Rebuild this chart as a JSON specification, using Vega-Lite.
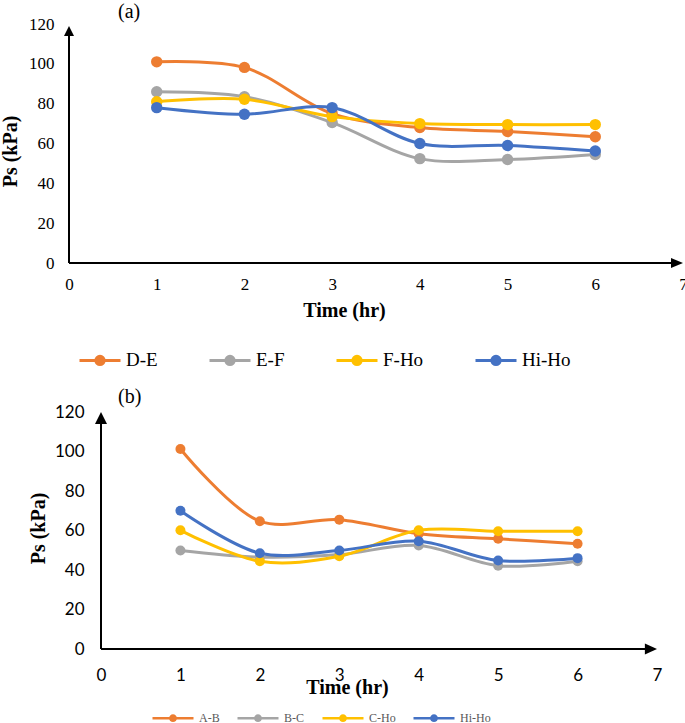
{
  "$schema": "https://vega.github.io/schema/vega-lite/v6.json",
  "background": "white",
  "padding": {"left": 0, "top": 2, "right": 0, "bottom": 0},
  "config": {
    "view": {"stroke": null},
    "font": "Liberation Serif",
    "axis": {"domain": false, "ticks": false, "grid": false, "labelOverlap": false, "labelFlush": false, "labelColor": "black", "labelFontSize": 17, "titleColor": "black", "titleFont": "Liberation Serif", "titleFontSize": 20, "titleFontWeight": "bold", "format": "d", "tickCount": 20}
  },
  "bounds": "flush",
  "spacing": 149,
  "datasets": {
    "a": [
      {"t": 1, "series": "D-E", "ps": 101}, {"t": 2, "series": "D-E", "ps": 98.2}, {"t": 3, "series": "D-E", "ps": 75}, {"t": 4, "series": "D-E", "ps": 68}, {"t": 5, "series": "D-E", "ps": 66}, {"t": 6, "series": "D-E", "ps": 63.4},
      {"t": 1, "series": "E-F", "ps": 86}, {"t": 2, "series": "E-F", "ps": 83.5}, {"t": 3, "series": "E-F", "ps": 70.5}, {"t": 4, "series": "E-F", "ps": 52.4}, {"t": 5, "series": "E-F", "ps": 52}, {"t": 6, "series": "E-F", "ps": 54.5},
      {"t": 1, "series": "F-Ho", "ps": 81}, {"t": 2, "series": "F-Ho", "ps": 82.2}, {"t": 3, "series": "F-Ho", "ps": 73.5}, {"t": 4, "series": "F-Ho", "ps": 70}, {"t": 5, "series": "F-Ho", "ps": 69.5}, {"t": 6, "series": "F-Ho", "ps": 69.5},
      {"t": 1, "series": "Hi-Ho", "ps": 78}, {"t": 2, "series": "Hi-Ho", "ps": 74.7}, {"t": 3, "series": "Hi-Ho", "ps": 78}, {"t": 4, "series": "Hi-Ho", "ps": 60}, {"t": 5, "series": "Hi-Ho", "ps": 59}, {"t": 6, "series": "Hi-Ho", "ps": 56.2}
    ],
    "b": [
      {"t": 1, "series": "A-B", "ps": 101.3}, {"t": 2, "series": "A-B", "ps": 64.7}, {"t": 3, "series": "A-B", "ps": 65.5}, {"t": 4, "series": "A-B", "ps": 58.4}, {"t": 5, "series": "A-B", "ps": 55.8}, {"t": 6, "series": "A-B", "ps": 53.3},
      {"t": 1, "series": "B-C", "ps": 49.9}, {"t": 2, "series": "B-C", "ps": 46.5}, {"t": 3, "series": "B-C", "ps": 47.8}, {"t": 4, "series": "B-C", "ps": 52.4}, {"t": 5, "series": "B-C", "ps": 42.2}, {"t": 6, "series": "B-C", "ps": 44.4},
      {"t": 1, "series": "C-Ho", "ps": 60.1}, {"t": 2, "series": "C-Ho", "ps": 44.4}, {"t": 3, "series": "C-Ho", "ps": 47}, {"t": 4, "series": "C-Ho", "ps": 60.1}, {"t": 5, "series": "C-Ho", "ps": 59.6}, {"t": 6, "series": "C-Ho", "ps": 59.6},
      {"t": 1, "series": "Hi-Ho", "ps": 70}, {"t": 2, "series": "Hi-Ho", "ps": 48.5}, {"t": 3, "series": "Hi-Ho", "ps": 49.9}, {"t": 4, "series": "Hi-Ho", "ps": 54.6}, {"t": 5, "series": "Hi-Ho", "ps": 44.8}, {"t": 6, "series": "Hi-Ho", "ps": 46}
    ],
    "one": [{}]
  },
  "resolve": {"scale": {"color": "independent", "x": "independent", "y": "independent"}, "legend": {"color": "independent"}},
  "vconcat": [
    {
      "title": {"text": "(a)", "anchor": "start", "frame": "group", "dx": 49, "offset": -7, "fontSize": 20, "font": "Liberation Serif", "fontWeight": "normal", "color": "black"},
      "width": 614,
      "height": 239,
      "layer": [
        {
          "data": {"name": "a"},
          "mark": {"type": "line", "interpolate": "catmull-rom", "strokeWidth": 3},
          "encoding": {
            "x": {"field": "t", "type": "quantitative", "scale": {"domain": [0, 7], "nice": false},
              "axis": {"title": "Time (hr)", "values": [0, 1, 2, 3, 4, 5, 6, 7], "tickCount": 20, "labelFont": "Liberation Serif", "labelPadding": 13, "titleX": 275, "titleY": 47, "titleBaseline": "middle"}},
            "y": {"field": "ps", "type": "quantitative", "scale": {"domain": [0, 120], "nice": false},
              "axis": {"title": "Ps (kPa)", "values": [0, 20, 40, 60, 80, 100, 120], "tickCount": 20, "labelFont": "Liberation Serif", "labelPadding": 15, "titleX": -59, "titleY": 127, "titleBaseline": "middle", "titleAngle": 270}},
            "color": {"field": "series", "type": "nominal",
              "scale": {"domain": ["D-E", "E-F", "F-Ho", "Hi-Ho"], "range": ["#ED7D31", "#A5A5A5", "#FFC000", "#4472C4"]},
              "legend": {"orient": "none", "legendX": 9, "legendY": 314, "direction": "horizontal", "title": null,
                "symbolType": "M-1,0H1M-0.2,0A0.2,0.2,0,1,1,0.2,0A0.2,0.2,0,1,1,-0.2,0M-0.07,0A0.07,0.07,0,1,1,0.07,0A0.07,0.07,0,1,1,-0.07,0",
                "symbolSize": 1681, "symbolStrokeWidth": 3, "labelFont": "Liberation Serif", "labelFontSize": 19, "labelColor": "black", "labelOffset": 4, "columnPadding": 45}}
          }
        },
        {
          "data": {"name": "a"},
          "mark": {"type": "point", "filled": true, "size": 130, "opacity": 1},
          "encoding": {
            "x": {"field": "t", "type": "quantitative"},
            "y": {"field": "ps", "type": "quantitative"},
            "color": {"field": "series", "type": "nominal"}
          }
        },
        {
          "data": {"name": "one"},
          "mark": {"type": "rule", "strokeWidth": 2, "color": "black"},
          "encoding": {"x": {"datum": 0}, "x2": {"datum": 6.9}, "y": {"datum": 0}}
        },
        {
          "data": {"name": "one"},
          "mark": {"type": "rule", "strokeWidth": 2, "color": "black"},
          "encoding": {"x": {"datum": 0}, "y": {"datum": 0}, "y2": {"datum": 117}}
        },
        {
          "data": {"name": "one"},
          "mark": {"type": "point", "shape": "M0,0L-0.5,1L0.5,1Z", "size": 400, "filled": true, "opacity": 1, "color": "black"},
          "encoding": {"x": {"datum": 0}, "y": {"datum": 119}}
        },
        {
          "data": {"name": "one"},
          "mark": {"type": "point", "shape": "M0,0L-1.2,-0.5L-1.2,0.5Z", "size": 400, "filled": true, "opacity": 1, "color": "black"},
          "encoding": {"x": {"datum": 7}, "y": {"datum": 0}}
        }
      ]
    },
    {
      "title": {"text": "(b)", "anchor": "start", "frame": "group", "dx": 49, "offset": -4, "fontSize": 20, "font": "Liberation Serif", "fontWeight": "normal", "color": "black"},
      "width": 588,
      "height": 237,
      "layer": [
        {
          "data": {"name": "b"},
          "mark": {"type": "line", "interpolate": "catmull-rom", "strokeWidth": 3},
          "encoding": {
            "x": {"field": "t", "type": "quantitative", "scale": {"domain": [-0.403, 7], "nice": false},
              "axis": {"title": "Time (hr)", "values": [0, 1, 2, 3, 4, 5, 6, 7], "tickCount": 20, "labelFont": "Lato", "labelPadding": 18, "titleX": 278, "titleY": 38, "titleBaseline": "middle"}},
            "y": {"field": "ps", "type": "quantitative", "scale": {"domain": [0, 120], "nice": false},
              "axis": {"title": "Ps (kPa)", "offset": -32, "values": [0, 20, 40, 60, 80, 100, 120], "tickCount": 20, "labelFont": "Lato", "labelPadding": 17, "titleX": -63, "titleY": 116, "titleBaseline": "middle", "titleAngle": 270}},
            "color": {"field": "series", "type": "nominal",
              "scale": {"domain": ["A-B", "B-C", "C-Ho", "Hi-Ho"], "range": ["#ED7D31", "#A5A5A5", "#FFC000", "#4472C4"]},
              "legend": {"orient": "none", "legendX": 82, "legendY": 284, "direction": "horizontal", "title": null,
                "symbolType": "M-1,0H1M-0.13,0A0.13,0.13,0,1,1,0.13,0A0.13,0.13,0,1,1,-0.13,0M-0.04,0A0.04,0.04,0,1,1,0.04,0A0.04,0.04,0,1,1,-0.04,0",
                "symbolSize": 1681, "symbolStrokeWidth": 2.5, "labelFont": "Liberation Serif", "labelFontSize": 12, "labelColor": "#595959", "labelOffset": 4, "columnPadding": 12}}
          }
        },
        {
          "data": {"name": "b"},
          "mark": {"type": "point", "filled": true, "size": 100, "opacity": 1},
          "encoding": {
            "x": {"field": "t", "type": "quantitative"},
            "y": {"field": "ps", "type": "quantitative"},
            "color": {"field": "series", "type": "nominal"}
          }
        },
        {
          "data": {"name": "one"},
          "mark": {"type": "rule", "strokeWidth": 2, "color": "black"},
          "encoding": {"x": {"datum": 0}, "x2": {"datum": 6.88}, "y": {"datum": 0}}
        },
        {
          "data": {"name": "one"},
          "mark": {"type": "rule", "strokeWidth": 2, "color": "black"},
          "encoding": {"x": {"datum": 0}, "y": {"datum": 0}, "y2": {"datum": 116}}
        },
        {
          "data": {"name": "one"},
          "mark": {"type": "point", "shape": "M0,0L-0.5,1L0.5,1Z", "size": 576, "filled": true, "opacity": 1, "color": "black"},
          "encoding": {"x": {"datum": 0}, "y": {"datum": 120}}
        },
        {
          "data": {"name": "one"},
          "mark": {"type": "point", "shape": "M0,0L-1.1,-0.5L-1.1,0.5Z", "size": 484, "filled": true, "opacity": 1, "color": "black"},
          "encoding": {"x": {"datum": 7}, "y": {"datum": 0}}
        }
      ]
    }
  ]
}
